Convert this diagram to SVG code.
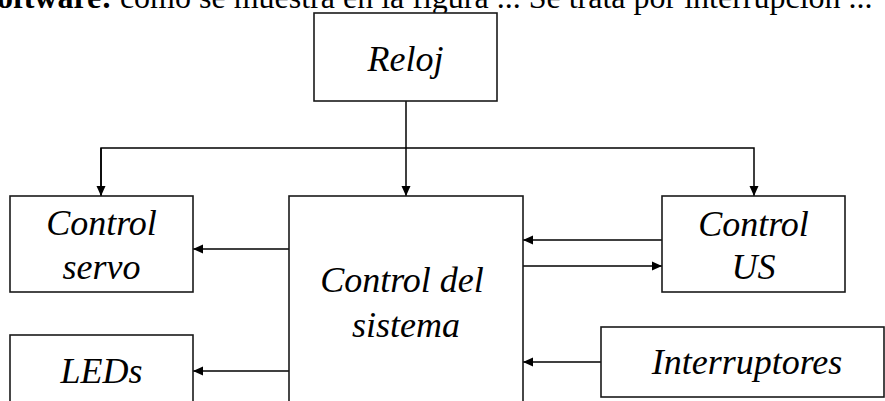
<svg xmlns="http://www.w3.org/2000/svg" width="885" height="401" viewBox="0 0 885 401">
  <defs>
    <style>
      .box { fill: #ffffff; stroke: #1a1a1a; stroke-width: 1.6; }
      .lbl { font-family: "Liberation Serif", "Times New Roman", serif; font-style: italic; font-size: 36px; fill: #000; text-anchor: middle; }
      .wire { fill: none; stroke: #000; stroke-width: 1.5; }
      .hdr { font-family: "Liberation Serif", "Times New Roman", serif; font-size: 32px; fill: #000; }
    </style>
    <marker id="arr" markerUnits="userSpaceOnUse" markerWidth="10" markerHeight="10" viewBox="0 0 10 10" refX="10" refY="5" orient="auto">
      <path d="M0,0.5 L10,5 L0,9.5 Z" fill="#000"/>
    </marker>
  </defs>
  <rect width="885" height="401" fill="#ffffff"/>

  <text class="hdr" x="-3" y="8"><tspan font-weight="bold">oftware:</tspan> como se muestra en la figura ... Se trata por interrupción ...</text>

  <g id="connectors">
    <path class="wire" d="M406,101 V196" marker-end="url(#arr)"/>
    <path class="wire" d="M101,196 V148 H754 V196" marker-end="url(#arr)"/>
    <path class="wire" d="M101,148 V196" marker-end="url(#arr)"/>
    <path class="wire" d="M289,249 H193" marker-end="url(#arr)"/>
    <path class="wire" d="M289,371 H193" marker-end="url(#arr)"/>
    <path class="wire" d="M662,240 H523" marker-end="url(#arr)"/>
    <path class="wire" d="M523,266 H662" marker-end="url(#arr)"/>
    <path class="wire" d="M601,362 H523" marker-end="url(#arr)"/>
  </g>

  <g id="reloj">
    <rect class="box" x="314" y="13" width="183" height="88"/>
    <text class="lbl" x="405.5" y="71">Reloj</text>
  </g>
  <g id="control-servo">
    <rect class="box" x="10" y="196" width="183" height="96"/>
    <text class="lbl" x="101.5" y="235">Control</text>
    <text class="lbl" x="101.5" y="279">servo</text>
  </g>
  <g id="leds">
    <rect class="box" x="10" y="335" width="183" height="80"/>
    <text class="lbl" x="101.5" y="383">LEDs</text>
  </g>
  <g id="control-sistema">
    <rect class="box" x="289" y="196" width="234" height="220"/>
    <text class="lbl" x="402" y="292">Control del</text>
    <text class="lbl" x="406" y="337">sistema</text>
  </g>
  <g id="control-us">
    <rect class="box" x="662" y="196" width="183" height="96"/>
    <text class="lbl" x="753.5" y="236">Control</text>
    <text class="lbl" x="753.5" y="279">US</text>
  </g>
  <g id="interruptores">
    <rect class="box" x="601" y="327" width="283" height="70"/>
    <text class="lbl" x="747" y="374">Interruptores</text>
  </g>
</svg>
